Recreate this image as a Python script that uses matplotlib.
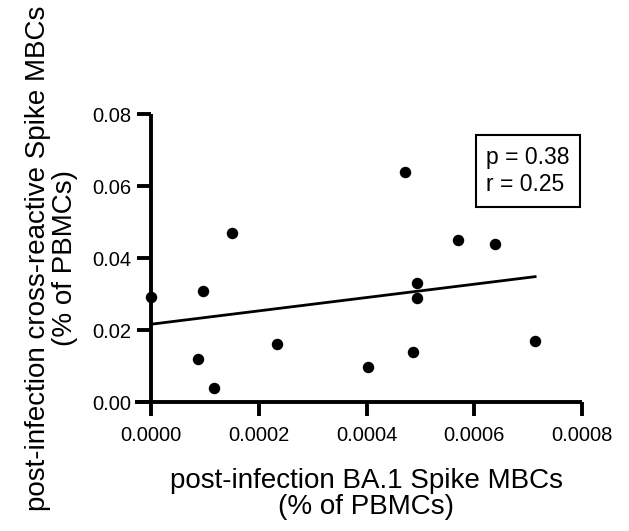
import matplotlib
matplotlib.use("Agg")
import matplotlib.pyplot as plt
import numpy as np

plt.rcParams['font.family'] = ['Liberation Sans', 'DejaVu Sans']

x_vals = [0.0, 0.0000971, 0.000151, 0.0000878, 0.000117, 0.000233, 0.000402,
          0.000472, 0.000487, 0.000493, 0.000494, 0.000570, 0.000639, 0.000713]
y_vals = [0.0291, 0.0309, 0.0469, 0.0120, 0.0039, 0.0160, 0.0096,
          0.0640, 0.0140, 0.0330, 0.0290, 0.0450, 0.0439, 0.0170]
x_ticks = [0.0, 0.0002, 0.0004, 0.0006, 0.0008]
y_ticks = [0.0, 0.02, 0.04, 0.06, 0.08]
stats_text = "p = 0.38\nr = 0.25"

x = np.array(x_vals)
y = np.array(y_vals)

W, H = 629, 531
fig = plt.figure(figsize=(W / 100, H / 100), dpi=100)
left_px, right_px, top_px, bot_px = 135, 582, 114, 402
ax = fig.add_axes([left_px / W, 1 - bot_px / H, (right_px - left_px) / W, (bot_px - top_px) / H])

ax.scatter(x, y, s=68, color='black', zorder=3, clip_on=False, linewidths=0)
slope, intercept = np.polyfit(x, y, 1)
xl = np.array([x.min(), x.max()])
ax.plot(xl, slope * xl + intercept, color='black', lw=2.0, zorder=2, clip_on=False)

ax.set_xlim(-0.0000297, 0.0008)
ax.set_ylim(0, 0.08)
ax.spines['left'].set_position(('data', 0))
ax.set_xticks(x_ticks)
ax.set_yticks(y_ticks)
ax.set_xticklabels([f"{v:.4f}" for v in x_ticks])
ax.set_yticklabels([f"{v:.2f}" for v in y_ticks])

for s in ['top', 'right']:
    ax.spines[s].set_visible(False)
for s in ['left', 'bottom']:
    ax.spines[s].set_linewidth(2.8)
    ax.spines[s].set_capstyle('butt')
ax.tick_params(axis='both', width=2.8, length=10, labelsize=14.5)
ax.tick_params(axis='x', pad=7)
ax.tick_params(axis='y', pad=4)

fig.text((left_px + 16 + right_px) / 2 / W, 1 - 494 / H,
         "post-infection BA.1 Spike MBCs\n(% of PBMCs)", fontsize=20,
         ha='center', va='center', linespacing=1.05)
fig.text(51.5 / W, 1 - (top_px + bot_px) / 2 / H,
         "post-infection cross-reactive Spike MBCs\n(% of PBMCs)", fontsize=20,
         ha='center', va='center', rotation=90, linespacing=1.05)

fig.text(486 / W, 1 - 171 / H, stats_text, fontsize=16.5,
         va='center', ha='left', linespacing=1.25,
         bbox=dict(boxstyle='square,pad=0.45', fc='white', ec='black', lw=1.5))

fig.savefig("out.png", dpi=100)
